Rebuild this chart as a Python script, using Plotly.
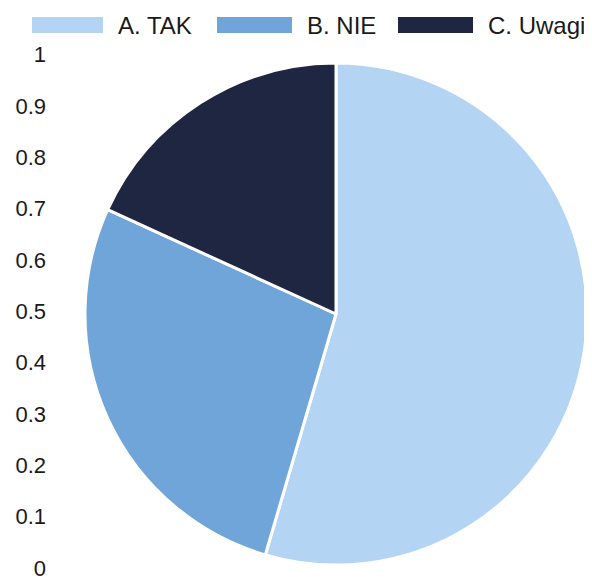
import plotly.graph_objects as go

# ---- data ----
categories = ["A. TAK", "B. NIE", "C. Uwagi"]
values = [6, 3, 2]
colors = ["#b3d4f2", "#6fa5d8", "#1f2641"]
tick_vals = [0, 0.1, 0.2, 0.3, 0.4, 0.5, 0.6, 0.7, 0.8, 0.9, 1]
tick_text = ["0", "0.1", "0.2", "0.3", "0.4", "0.5", "0.6", "0.7", "0.8", "0.9", "1"]

# page body has an 8px margin; figure fills the rest of the window
OFF = 8
W, H = 592 - OFF, 581 - OFF
FONT = "Liberation Sans, Arial, sans-serif"


def px(x):  # window x pixel -> paper fraction
    return (x - OFF) / W


def py(y):  # window y pixel -> paper fraction
    return 1 - (y - OFF) / H


fig = go.Figure()

fig.add_trace(go.Pie(
    labels=categories,
    values=values,
    sort=False,
    direction="clockwise",
    rotation=0,
    marker=dict(colors=colors, line=dict(color="white", width=3)),
    textinfo="none",
    hoverinfo="label+percent",
    showlegend=False,
    automargin=False,
    domain=dict(x=[px(85), px(587)], y=[py(565), py(63)]),
))

# invisible helper so the value axis is drawn
fig.add_trace(go.Scatter(x=[0], y=[0], mode="markers",
                         marker=dict(opacity=0), showlegend=False,
                         hoverinfo="skip"))

# manual legend with wide swatches
sw_x = [(32, 103), (217, 292), (398, 473)]
for (x0, x1), c, lab in zip(sw_x, colors, categories):
    fig.add_shape(type="rect", xref="paper", yref="paper",
                  x0=px(x0), x1=px(x1), y0=py(33), y1=py(17),
                  fillcolor=c, line=dict(width=0))
    fig.add_annotation(x=px(x1 + 13), y=py(25), xref="paper", yref="paper",
                       text=lab, showarrow=False, xanchor="left", yanchor="middle",
                       font=dict(family=FONT, size=24, color="#1a1a1a"))

fig.update_layout(
    template=None,
    width=W, height=H,
    margin=dict(l=0, r=0, t=0, b=0, pad=0),
    paper_bgcolor="white", plot_bgcolor="white",
    xaxis=dict(domain=[px(47), 1], visible=False, range=[0, 1], automargin=False),
    yaxis=dict(domain=[py(568), py(54.7)], range=[0, 1],
               tickvals=tick_vals, ticktext=tick_text, automargin=False,
               showgrid=False, zeroline=False, showline=False, ticks="",
               tickfont=dict(family=FONT, size=22, color="#1a1a1a")),
    showlegend=False,
)

fig.write_html("out.html")
